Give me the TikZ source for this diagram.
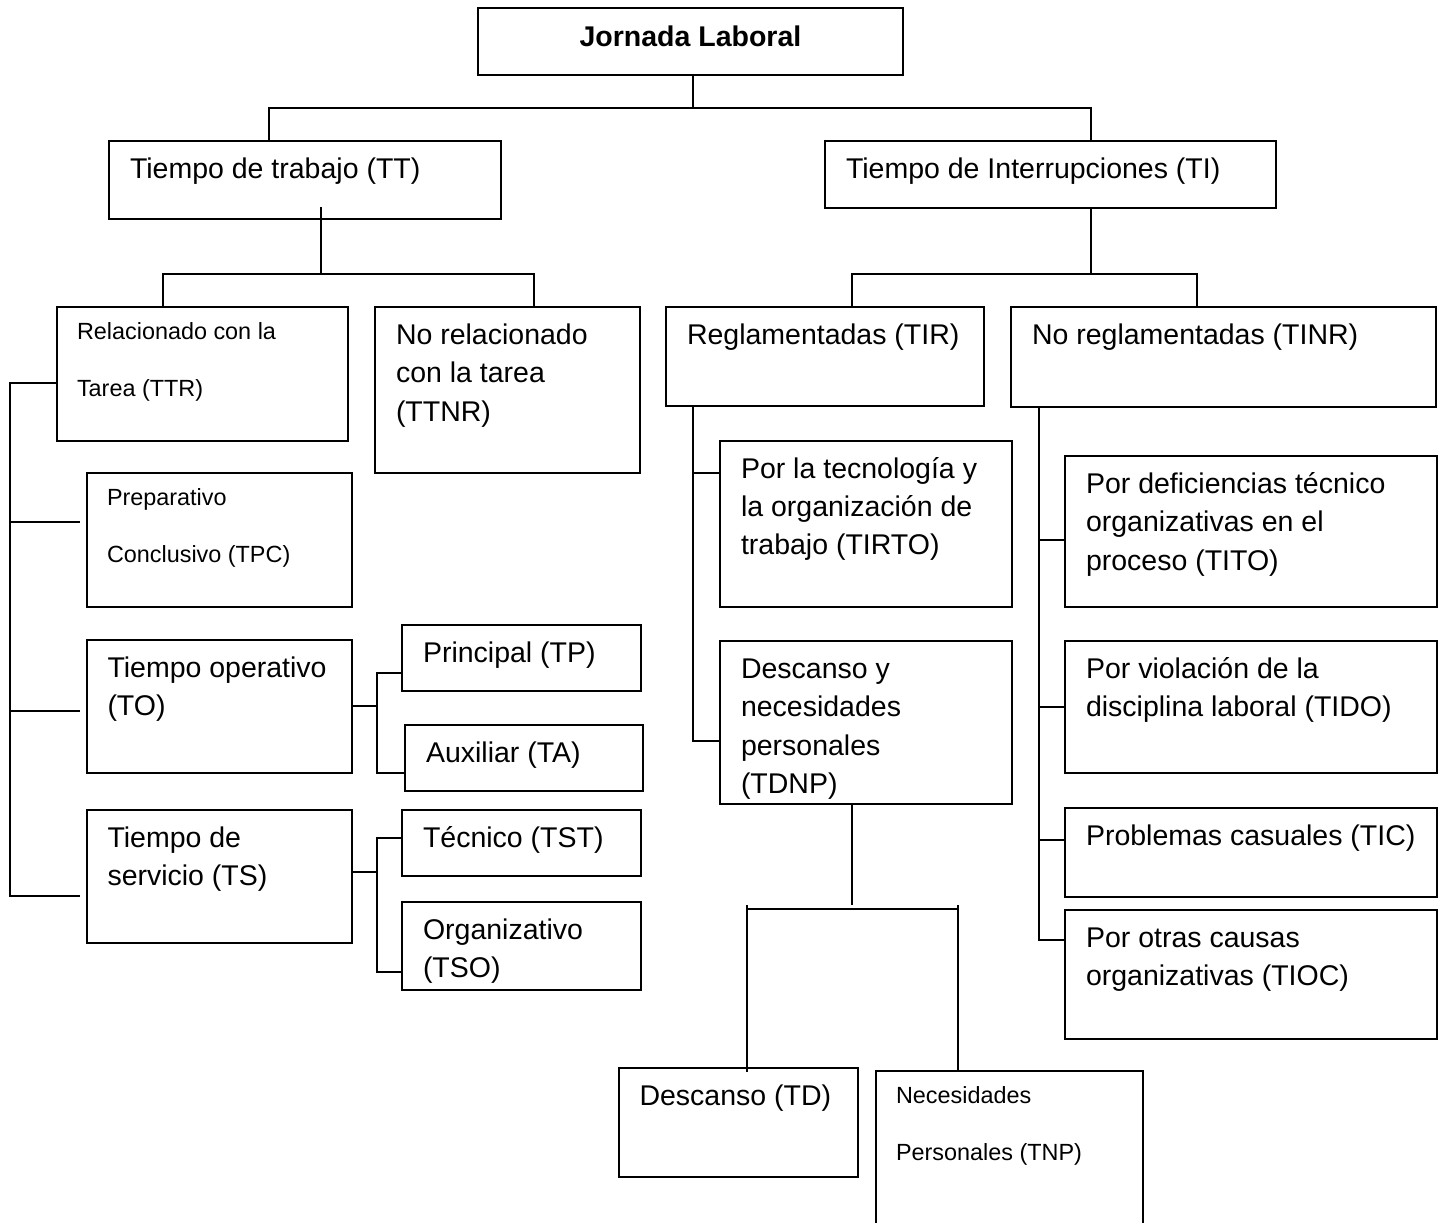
\documentclass[tikz,border=0pt]{standalone}
\usepackage{fontspec}
\setmainfont{Liberation Sans}
\usetikzlibrary{calc}
\newcommand\lnstrut{\rule{0pt}{22pt}}
\newcommand\bx[7][txt]{%
  \node[box, minimum width={#5pt-#3pt}, minimum height={#6pt-#4pt}] (#2) at (#3,#4) {};
  \node[#1] (#2t) at (#2.north west) {\lnstrut #7};}
\begin{document}
\begin{tikzpicture}[x=1pt,y=-1pt,
  box/.style={draw, line width=2pt, anchor=north west, inner sep=0pt, outer sep=0pt},
  conn/.style={line width=2pt},
  txt/.style={anchor=north west, align=left, inner sep=0pt, outer sep=0pt, xshift=21pt, yshift=-15.5pt, font=\fontsize{28.5}{38.3}\selectfont},
  stxt/.style={anchor=north west, align=left, inner sep=0pt, outer sep=0pt, xshift=20.5pt, yshift=-10.5pt, font=\fontsize{23.4}{56.5}\selectfont},
  ttl/.style={anchor=base, inner sep=0pt, font=\bfseries\fontsize{28.5}{34}\selectfont}]
\useasboundingbox (0,0) rectangle (1441,1223);
\fill[white] (0,0) rectangle (1441,1223);
\clip (0,0) rectangle (1441,1223);

% boxes
\node[box, minimum width=425pt, minimum height=67pt] (jl) at (478,8) {};
\node[ttl] (jlt) at (690.5,47) {Jornada Laboral};

\bx{tt}{109}{141}{500.5}{219}{Tiempo de trabajo (TT)}
\bx{ti}{825}{141}{1276}{208}{Tiempo de Interrupciones (TI)}
\bx[stxt]{ttr}{56.5}{307}{348}{440.5}{Relacionado con la\\Tarea (TTR)}
\bx{ttnr}{375}{307}{640}{472.5}{No relacionado\\con la tarea\\(TTNR)}
\bx{tir}{666}{307}{984}{406}{Reglamentadas (TIR)}
\bx{tinr}{1011}{307}{1436}{407}{No reglamentadas (TINR)}
\bx[stxt]{tpc}{86.5}{473}{352}{606.5}{Preparativo\\Conclusivo (TPC)}
\bx{to}{86.5}{640}{352}{773}{Tiempo operativo\\(TO)}
\bx{ts}{86.5}{809.5}{352}{942.5}{Tiempo de\\servicio (TS)}
\bx{tp}{402}{625}{641}{691}{Principal (TP)}
\bx{ta}{405}{725}{643}{791}{Auxiliar (TA)}
\bx{tst}{402}{809.5}{641}{876}{Técnico (TST)}
\bx{tso}{402}{902}{641}{990}{Organizativo\\(TSO)}
\bx{tirto}{720}{440.5}{1012}{606.5}{Por la tecnología y\\la organización de\\trabajo (TIRTO)}
\bx{tdnp}{720}{641}{1012}{804}{Descanso y\\necesidades\\personales\\(TDNP)}
\bx{tito}{1065}{456}{1437}{606.5}{Por deficiencias técnico\\organizativas en el\\proceso (TITO)}
\bx{tido}{1065}{641}{1437}{773}{Por violación de la\\disciplina laboral (TIDO)}
\bx{tic}{1065}{808}{1437}{897}{Problemas casuales (TIC)}
\bx{tioc}{1065}{910}{1437}{1039}{Por otras causas\\organizativas (TIOC)}
\bx{td}{618.5}{1068}{858}{1177}{Descanso (TD)}
\bx[stxt]{tnp}{875.5}{1071}{1143}{1260}{Necesidades\\Personales (TNP)}

% level 1
\coordinate (b1) at (693,108);
\coordinate (c1) at (268.6,108);
\coordinate (c2) at (1091,108);
\draw[conn] (jl.south -| b1) -- (b1);
\draw[conn] (tt.north -| c1) -- (c1) -- (c2) -- (ti.north -| c2);

% TT children
\coordinate (b2a) at (321.4,207);
\coordinate (b2) at (321.4,274);
\coordinate (c3) at (162.5,274);
\coordinate (c4) at (534,274);
\draw[conn] (b2a) -- (b2);
\draw[conn] (ttr.north -| c3) -- (c3) -- (c4) -- (ttnr.north -| c4);

% TI children
\coordinate (b3) at (1091,274);
\coordinate (c5) at (852,274);
\coordinate (c6) at (1197,274);
\draw[conn] (ti.south -| b3) -- (b3);
\draw[conn] (tir.north -| c5) -- (c5) -- (c6) -- (tinr.north -| c6);

% left spine
\coordinate (s1) at (9.5,383);
\coordinate (s2) at (9.5,522);
\coordinate (s3) at (9.5,710.5);
\coordinate (s4) at (9.5,896);
\coordinate (e2) at (80,522);
\coordinate (e3) at (80,710.5);
\coordinate (e4) at (80,896);
\draw[conn] (ttr.west |- s1) -- (s1) -- (s4) -- (e4);
\draw[conn] (s2) -- (e2);
\draw[conn] (s3) -- (e3);

% TO children
\coordinate (o2) at (376.5,706);
\coordinate (o3) at (376.5,673);
\coordinate (o4) at (376.5,773);
\draw[conn] (to.east |- o2) -- (o2);
\draw[conn] (tp.west |- o3) -- (o3) -- (o4) -- (ta.west |- o4);

% TS children
\coordinate (u2) at (376.5,872);
\coordinate (u3) at (376.5,838);
\coordinate (u4) at (376.5,972);
\draw[conn] (ts.east |- u2) -- (u2);
\draw[conn] (tst.west |- u3) -- (u3) -- (u4) -- (tso.west |- u4);

% TIR children
\coordinate (r1) at (693.4,473);
\coordinate (r2) at (693.4,740.6);
\draw[conn] (tir.south -| r1) -- (r2) -- (tdnp.west |- r2);
\draw[conn] (r1) -- (tirto.west |- r1);

% TDNP children
\coordinate (d1) at (852,905);
\coordinate (d2) at (746.6,909.3);
\coordinate (d3) at (958,909.3);
\coordinate (d4) at (746.6,905);
\coordinate (d5) at (746.6,1071.7);
\coordinate (d6) at (958,905);
\draw[conn] (tdnp.south -| d1) -- (d1);
\draw[conn] (d2) -- (d3);
\draw[conn] (d4) -- (d5);
\draw[conn] (d6) -- (tnp.north -| d6);

% TINR children
\coordinate (n1) at (1038.5,540);
\coordinate (n2) at (1038.5,707);
\coordinate (n3) at (1038.5,840);
\coordinate (n4) at (1038.5,939.5);
\draw[conn] (tinr.south -| n1) -- (n4) -- (tioc.west |- n4);
\draw[conn] (n1) -- (tito.west |- n1);
\draw[conn] (n2) -- (tido.west |- n2);
\draw[conn] (n3) -- (tic.west |- n3);
\end{tikzpicture}
\end{document}
